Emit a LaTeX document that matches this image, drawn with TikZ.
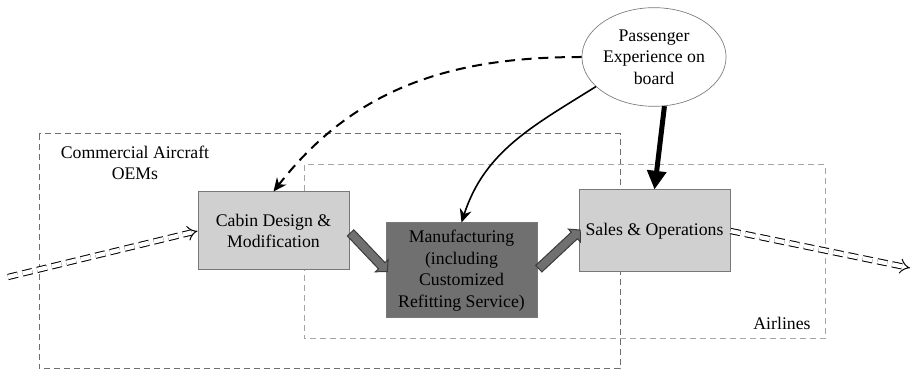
\documentclass[tikz,border=0pt]{standalone}
\usepackage{fontspec}
\setmainfont{Liberation Serif}
\usetikzlibrary{arrows.meta,shapes.geometric,shapes.arrows}

\definecolor{boxlight}{RGB}{208,208,208}
\definecolor{boxdark}{RGB}{112,112,112}
\definecolor{edgegray}{RGB}{120,120,120}

\tikzset{every picture/.style={line width=0.75pt}}
\tikzset{
  label text/.style={font=\fontsize{13.3}{16.2}\selectfont,align=center,inner sep=0.75pt},
  stage/.style={label text,draw=edgegray,minimum width=113.25pt},
  region/.style={dash pattern={on 4.5pt off 3pt},line width=0.75pt},
  fatarrow/.style={single arrow,draw={rgb,255:red,60;green,60;blue,60},fill=boxdark,
    line width=0.75pt,inner xsep=0pt,inner ysep=3pt,
    single arrow head extend=3.2pt,single arrow tip angle=95},
  flowin/.style={double,double distance=3.2pt,line width=0.75pt,dash pattern={on 7.5pt off 3.75pt},
    -{Implies[]}}
}

\begin{document}
\begin{tikzpicture}[x=0.75pt,y=0.75pt,yscale=-1,xscale=1]
\path[use as bounding box] (0,0) rectangle (915,370);

%Dashed regions
\draw [region,color={rgb, 255:red, 110; green, 110; blue, 110 }] (39,134) rectangle (620,369);
\draw [region,color={rgb, 255:red, 165; green, 165; blue, 165 }] (304,165) rectangle (825,339);

% Text Node
\node (oem) [label text] at (135,163) {Commercial Aircraft\\OEMs};
% Text Node
\node (airlines) [label text] at (782,323) {Airlines};

%Stage boxes
\node (cabin) [stage,fill=boxlight,minimum height=58.5pt] at (273.5,231) {Cabin Design \&\\Modification};
\node (manuf) [stage,fill=boxdark,minimum height=71.25pt] at (461.5,270.5) {Manufacturing\\(including\\Customized\\Refitting Service)};
\node (sales) [stage,fill=boxlight,minimum height=61.5pt] at (654.5,231) {Sales \& Operations};

%Ellipse
\node (pax) [label text,ellipse,draw=edgegray,line width=0.5pt,minimum width=107pt,minimum height=74pt,inner sep=0pt] at (654,57) {Passenger\\Experience on\\board};

%Flow in / out
\coordinate (src) at (8,277);
\coordinate (dst) at (910,268);
\draw [flowin] (src) -- (cabin.west);
\draw [flowin] (sales.east) -- (dst);

%Fat arrows between stages
\path (cabin.east) -- (manuf.west) node [midway,fatarrow,rotate=-46.5,minimum height=40pt] (fa1) {};
\path (manuf.east) -- (sales.west) node [midway,fatarrow,rotate=43,minimum height=42.5pt] (fa2) {};

%Curve Lines
\draw [line width=1.5,dash pattern={on 7.5pt off 5pt},-{Stealth[length=10pt,width=9pt]}] (pax.west) to[out=180,in=-52] (cabin.north);
\draw [line width=1.2,-{Stealth[length=10pt,width=9pt]}] (pax.207) to[out=148,in=-72] (manuf.north);
%Straight Lines
\draw [line width=3.75,-{Triangle[length=14pt,width=14pt]}] (pax.-78) -- (sales.north);

\end{tikzpicture}
\end{document}
